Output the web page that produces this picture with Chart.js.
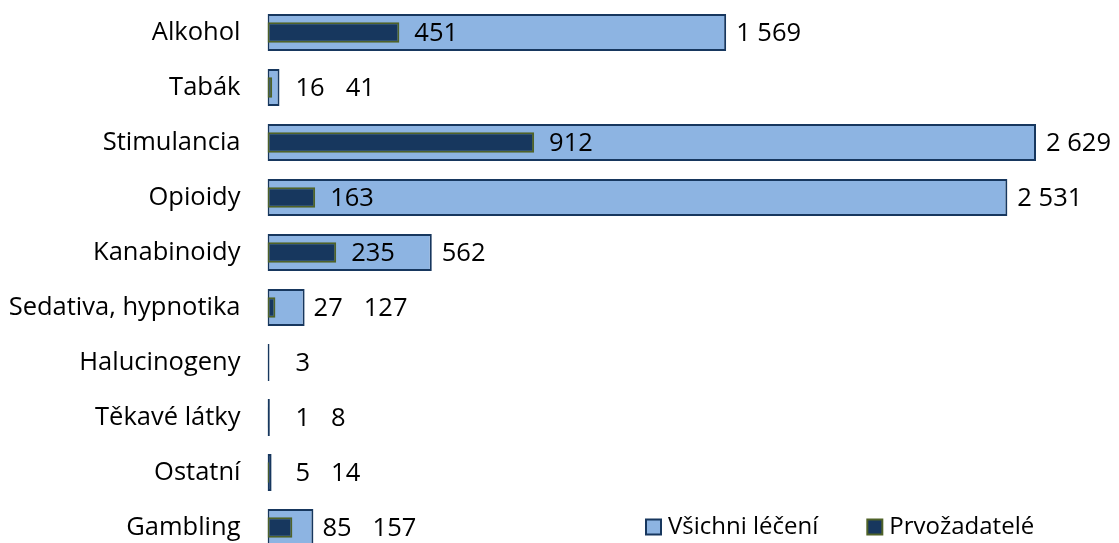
<!DOCTYPE html>
<html>
<head>
<meta charset="utf-8">
<script src="https://cdn.jsdelivr.net/npm/chart.js@4/dist/chart.umd.min.js"></script>
<style>
  html, body { margin: 0; padding: 0; background: #fff; overflow: hidden; }
  #wrap { position: relative; width: 1119px; height: 560px; }
</style>
</head>
<body>
<div id="wrap"><canvas id="c"></canvas></div>
<script>
const categories = ["Alkohol", "Tabák", "Stimulancia", "Opioidy", "Kanabinoidy",
  "Sedativa, hypnotika", "Halucinogeny", "Těkavé látky", "Ostatní", "Gambling"];
const allTreated = [1569, 41, 2629, 2531, 562, 127, 3, 8, 14, 157];
const firstTime = [451, 16, 912, 163, 235, 27, 0, 1, 5, 85];
const seriesNames = ["Všichni léčení", "Prvožadatelé"];

const LIGHT = "#8DB4E2";
const NAVY = "#17375E";
const OLIVE = "#4F6228";
const FONT = "'Open Sans', 'DejaVu Sans', sans-serif";
const FSIZE = 25.5;
const LEGEND_FSIZE = 24;

function fmt(v) {
  return String(v).replace(/\B(?=(\d{3})+(?!\d))/g, " ");
}

const labelPlugin = {
  id: "valueLabels",
  afterDatasetsDraw(chart) {
    const ctx = chart.ctx;
    const mLight = chart.getDatasetMeta(0);
    const mDark = chart.getDatasetMeta(1);
    ctx.save();
    ctx.font = FSIZE + "px " + FONT;
    ctx.fillStyle = "#000";
    ctx.textBaseline = "middle";
    ctx.textAlign = "left";
    const minX = chart.chartArea.left + 28;
    categories.forEach((c, i) => {
      const lb = mLight.data[i];
      const db = mDark.data[i];
      const lightEnd = lb.x;
      const darkEnd = db.x;
      const y = lb.y + 1;
      let darkLabelEnd = null;
      if (firstTime[i] > 0) {
        const t = fmt(firstTime[i]);
        const w = ctx.measureText(t).width;
        let x = darkEnd + 15;
        if (x + w > lightEnd - 4) x = Math.max(x, lightEnd + 9);
        x = Math.max(x, minX);
        ctx.fillText(t, x, y);
        darkLabelEnd = x + w;
      }
      const t2 = fmt(allTreated[i]);
      let x2 = lightEnd + 10;
      if (darkLabelEnd !== null) x2 = Math.max(x2, darkLabelEnd + 21);
      x2 = Math.max(x2, minX);
      ctx.fillText(t2, x2, y);
    });
    ctx.restore();
  }
};

const legendPlugin = {
  id: "customLegend",
  afterDraw(chart) {
    const ctx = chart.ctx;
    ctx.save();
    ctx.font = LEGEND_FSIZE + "px " + FONT;
    ctx.textBaseline = "middle";
    ctx.textAlign = "left";
    const items = [
      { text: seriesNames[0], fill: LIGHT, stroke: NAVY },
      { text: seriesNames[1], fill: NAVY, stroke: OLIVE }
    ];
    const box = 15, gapText = 7, gapItem = 49;
    let x = 646;
    const yc = 527;
    items.forEach(it => {
      ctx.fillStyle = it.fill;
      ctx.fillRect(x, yc - box / 2, box, box);
      ctx.strokeStyle = it.stroke;
      ctx.lineWidth = 2;
      ctx.strokeRect(x, yc - box / 2, box, box);
      ctx.fillStyle = "#000";
      const tx = x + box + gapText;
      ctx.fillText(it.text, tx, yc);
      x = tx + ctx.measureText(it.text).width + gapItem;
    });
    ctx.restore();
  }
};

new Chart(document.getElementById("c"), {
  type: "bar",
  data: {
    labels: categories,
    datasets: [
      {
        label: seriesNames[0],
        data: allTreated,
        backgroundColor: LIGHT,
        borderColor: NAVY,
        borderWidth: 2,
        borderSkipped: false,
        minBarLength: 2,
        barPercentage: 0.67,
        categoryPercentage: 1,
        grouped: false,
        order: 2
      },
      {
        label: seriesNames[1],
        data: firstTime,
        backgroundColor: NAVY,
        borderColor: OLIVE,
        borderWidth: 2,
        borderSkipped: false,
        barPercentage: 0.37,
        categoryPercentage: 1,
        grouped: false,
        order: 1
      }
    ]
  },
  options: {
    indexAxis: "y",
    responsive: true,
    maintainAspectRatio: false,
    animation: false,
    layout: { padding: { top: 5, bottom: 5, left: 0, right: 33 } },
    plugins: {
      legend: { display: false },
      tooltip: { enabled: false }
    },
    scales: {
      x: {
        display: false,
        min: 0,
        max: 2800
      },
      y: {
        grid: { display: false, drawTicks: false },
        border: { display: false },
        ticks: {
          color: "#000",
          font: { family: FONT, size: FSIZE },
          padding: 27,
          autoSkip: false
        },
        afterFit(scale) {
          scale.width = 267.5;
          scale.paddingTop = 0;
          scale.paddingBottom = 0;
        }
      }
    }
  },
  plugins: [labelPlugin, legendPlugin]
});
</script>
</body>
</html>
